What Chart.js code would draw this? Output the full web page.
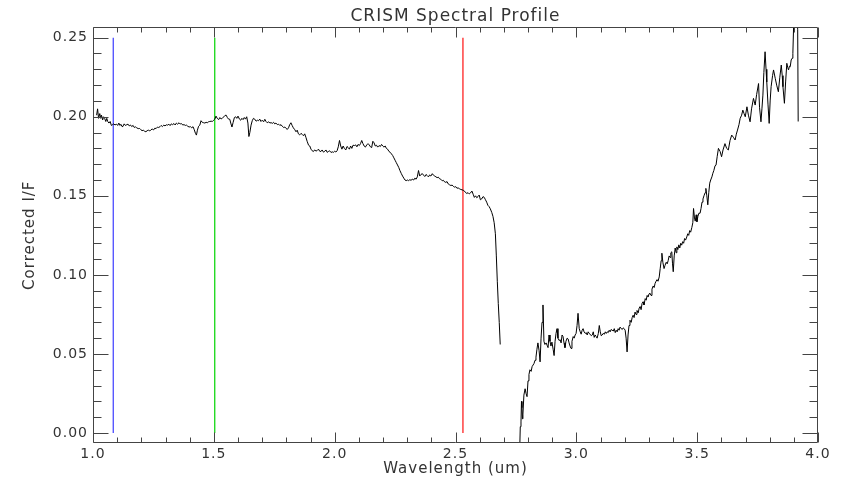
<!DOCTYPE html>
<html>
<head>
<meta charset="utf-8">
<title>CRISM Spectral Profile</title>
<script src="https://cdn.jsdelivr.net/npm/chart.js@4.4.1/dist/chart.umd.min.js"></script>
<style>
  html, body { margin: 0; padding: 0; background: #fff; }
  #wrap { width: 841px; height: 479px; }
</style>
</head>
<body>
<div id="wrap"><canvas id="profile" width="841" height="479"></canvas></div>
<script>
// Spectrum, short-wave part (um, I/F)
const shortSpectrum = [
  [1.015,0.201],[1.019,0.205],[1.023,0.199],[1.028,0.202],[1.032,0.199],[1.035,0.201],[1.040,0.198],[1.044,0.200],[1.048,0.199],[1.053,0.197],
  [1.057,0.199],[1.061,0.197],[1.066,0.196],[1.071,0.197],[1.076,0.1945],[1.081,0.195],[1.086,0.1955],[1.091,0.1948],[1.097,0.1953],[1.102,0.1945],
  [1.107,0.196],[1.111,0.1945],[1.116,0.1952],[1.120,0.1938],[1.124,0.194],[1.129,0.1955],[1.134,0.1945],[1.140,0.195],[1.145,0.1953],[1.150,0.1942],
  [1.155,0.1948],[1.160,0.1938],[1.166,0.1945],[1.171,0.1932],[1.176,0.1936],[1.181,0.193],[1.187,0.1925],[1.193,0.1926],[1.198,0.1918],[1.203,0.1912],
  [1.208,0.1915],[1.214,0.1908],[1.219,0.1905],[1.224,0.1912],[1.230,0.1915],[1.235,0.191],[1.240,0.1918],[1.245,0.1922],[1.251,0.1917],[1.256,0.1928],
  [1.261,0.1925],[1.267,0.1935],[1.272,0.1932],[1.277,0.1937],[1.282,0.1945],[1.287,0.1938],[1.293,0.1947],[1.298,0.1942],[1.303,0.1949],[1.309,0.1947],
  [1.314,0.1953],[1.319,0.1944],[1.324,0.1955],[1.329,0.1950],[1.335,0.1957],[1.340,0.1948],[1.345,0.1960],[1.350,0.1953],[1.356,0.1962],[1.361,0.1954],
  [1.366,0.1957],[1.371,0.1948],[1.377,0.1950],[1.382,0.1945],[1.387,0.1947],[1.392,0.1940],[1.398,0.1935],[1.403,0.1938],[1.408,0.1930],[1.414,0.1937],
  [1.419,0.1918],[1.424,0.1895],[1.428,0.1884],[1.432,0.1915],[1.437,0.1940],[1.442,0.1947],[1.447,0.1975],[1.452,0.1965],[1.458,0.1962],[1.463,0.1960],
  [1.468,0.1965],[1.473,0.1962],[1.478,0.1968],[1.483,0.1970],[1.489,0.1972],[1.494,0.1970],[1.499,0.1978],[1.504,0.1985],[1.509,0.2004],[1.514,0.1990],
  [1.520,0.1982],[1.525,0.1995],[1.530,0.1986],[1.535,0.1990],[1.540,0.1998],[1.546,0.2008],[1.551,0.2010],[1.556,0.1995],[1.561,0.1985],[1.566,0.1984],
  [1.570,0.1960],[1.575,0.1935],[1.580,0.1965],[1.585,0.1995],[1.590,0.2000],[1.595,0.1990],[1.600,0.2004],[1.606,0.1985],[1.611,0.1978],[1.616,0.1990],
  [1.621,0.1982],[1.626,0.1995],[1.631,0.1985],[1.636,0.2000],[1.641,0.1960],[1.645,0.1875],[1.649,0.1900],[1.654,0.1947],[1.659,0.1975],[1.664,0.1990],
  [1.669,0.1985],[1.675,0.1972],[1.680,0.1978],[1.685,0.1975],[1.690,0.1985],[1.695,0.1970],[1.700,0.1978],[1.706,0.1968],[1.711,0.1984],[1.716,0.1970],
  [1.721,0.1962],[1.727,0.1968],[1.732,0.1960],[1.737,0.1963],[1.742,0.1958],[1.747,0.1965],[1.752,0.1955],[1.757,0.1960],[1.763,0.1950],[1.768,0.1953],
  [1.773,0.1945],[1.778,0.1950],[1.783,0.1940],[1.789,0.1932],[1.794,0.1935],[1.799,0.1926],[1.804,0.1920],[1.809,0.1930],[1.814,0.1950],[1.819,0.1962],
  [1.824,0.1945],[1.829,0.1930],[1.835,0.1918],[1.840,0.1905],[1.845,0.1915],[1.850,0.1892],[1.855,0.1885],[1.861,0.1895],[1.866,0.1888],[1.871,0.1880],
  [1.876,0.1892],[1.881,0.1870],[1.886,0.1845],[1.892,0.1820],[1.897,0.1815],[1.902,0.1795],[1.907,0.1785],[1.912,0.1780],[1.917,0.1790],[1.923,0.1783],
  [1.928,0.1787],[1.933,0.1795],[1.938,0.1782],[1.943,0.1780],[1.948,0.1790],[1.954,0.1776],[1.959,0.1782],[1.964,0.1790],[1.969,0.1775],[1.974,0.1780],
  [1.979,0.1785],[1.985,0.1774],[1.990,0.1778],[1.995,0.1775],[2.000,0.1782],[2.005,0.1777],[2.010,0.1785],[2.015,0.1810],[2.020,0.1850],[2.025,0.1815],
  [2.030,0.1795],[2.035,0.1815],[2.040,0.1800],[2.046,0.1790],[2.051,0.1812],[2.056,0.1805],[2.061,0.1795],[2.066,0.1815],[2.071,0.1800],[2.076,0.1820],
  [2.082,0.1818],[2.087,0.1822],[2.092,0.1810],[2.097,0.1825],[2.102,0.1818],[2.107,0.1830],[2.112,0.1850],[2.117,0.1830],[2.122,0.1815],[2.127,0.1808],
  [2.133,0.1822],[2.138,0.1830],[2.143,0.1822],[2.148,0.1810],[2.153,0.1805],[2.158,0.1845],[2.163,0.1835],[2.168,0.1815],[2.173,0.1820],[2.178,0.1808],
  [2.184,0.1818],[2.189,0.1812],[2.194,0.1825],[2.199,0.1815],[2.204,0.1808],[2.209,0.1815],[2.214,0.1800],[2.219,0.1795],[2.225,0.1780],[2.230,0.1775],
  [2.235,0.1765],[2.240,0.1755],[2.245,0.1740],[2.250,0.1725],[2.255,0.1710],[2.260,0.1695],[2.265,0.1680],[2.270,0.1660],[2.276,0.1640],[2.281,0.1625],
  [2.286,0.1612],[2.291,0.1600],[2.296,0.1596],[2.301,0.1600],[2.306,0.1596],[2.311,0.1602],[2.316,0.1598],[2.321,0.1605],[2.327,0.1600],[2.332,0.1612],
  [2.337,0.1605],[2.342,0.1620],[2.347,0.1660],[2.352,0.1625],[2.357,0.1635],[2.363,0.1640],[2.368,0.1630],[2.373,0.1622],[2.378,0.1635],[2.383,0.1628],
  [2.388,0.1620],[2.393,0.1632],[2.398,0.1625],[2.404,0.1640],[2.409,0.1630],[2.414,0.1625],[2.419,0.1620],[2.424,0.1615],[2.429,0.1618],[2.434,0.1608],
  [2.439,0.1605],[2.445,0.1595],[2.450,0.1598],[2.455,0.1588],[2.460,0.1585],[2.465,0.1590],[2.470,0.1575],[2.475,0.1570],[2.481,0.1565],[2.486,0.1568],
  [2.491,0.1560],[2.496,0.1555],[2.501,0.1558],[2.506,0.1548],[2.511,0.1550],[2.516,0.1545],[2.522,0.1540],[2.527,0.1538],[2.532,0.1535],[2.537,0.1530],
  [2.542,0.1520],[2.547,0.1515],[2.552,0.1520],[2.557,0.1512],[2.562,0.1518],[2.568,0.1530],[2.573,0.1510],[2.578,0.1490],[2.583,0.1500],[2.588,0.1488],
  [2.593,0.1495],[2.598,0.1505],[2.603,0.1475],[2.608,0.1480],[2.614,0.1495],[2.619,0.1490],[2.624,0.1475],[2.629,0.1460],[2.634,0.1440],[2.639,0.1432],
  [2.644,0.1418],[2.650,0.1395],[2.655,0.1370],[2.660,0.1330],[2.665,0.1260],[2.669,0.1120],[2.673,0.0960],[2.677,0.0820],[2.681,0.0700],[2.685,0.0560]
];

// Spectrum, long-wave part (um, I/F)
const longSpectrum = [
  [2.765,-0.015],[2.768,0.004],[2.771,0.007],[2.773,0.020],[2.775,0.016],[2.777,0.009],[2.779,0.012],[2.783,0.024],[2.788,0.028],[2.792,0.025],
  [2.796,0.023],[2.800,0.033],[2.804,0.037],[2.808,0.040],[2.813,0.039],[2.817,0.042],[2.821,0.043],[2.825,0.044],[2.829,0.046],[2.833,0.048],
  [2.837,0.053],[2.841,0.057],[2.846,0.052],[2.850,0.045],[2.854,0.060],[2.858,0.070],[2.862,0.081],[2.866,0.058],[2.870,0.056],[2.875,0.057],
  [2.879,0.0555],[2.883,0.054],[2.887,0.062],[2.891,0.058],[2.895,0.055],[2.899,0.0575],[2.904,0.053],[2.908,0.049],[2.912,0.058],[2.916,0.063],
  [2.920,0.066],[2.924,0.060],[2.929,0.0585],[2.933,0.059],[2.937,0.057],[2.941,0.062],[2.945,0.061],[2.949,0.057],[2.953,0.054],[2.957,0.058],
  [2.962,0.060],[2.966,0.0595],[2.970,0.057],[2.974,0.055],[2.978,0.0535],[2.982,0.058],[2.987,0.061],[2.991,0.060],[2.995,0.062],[2.999,0.063],
  [3.003,0.068],[3.007,0.0757],[3.012,0.066],[3.016,0.064],[3.020,0.0625],[3.024,0.065],[3.028,0.066],[3.032,0.064],[3.037,0.063],[3.041,0.0635],
  [3.045,0.062],[3.049,0.064],[3.053,0.063],[3.057,0.0625],[3.062,0.0615],[3.066,0.062],[3.070,0.064],[3.074,0.0605],[3.078,0.062],[3.082,0.061],
  [3.086,0.060],[3.091,0.063],[3.095,0.068],[3.099,0.064],[3.103,0.0615],[3.107,0.062],[3.111,0.063],[3.116,0.0625],[3.120,0.064],[3.124,0.063],
  [3.128,0.064],[3.132,0.0635],[3.136,0.065],[3.140,0.064],[3.144,0.0655],[3.148,0.065],[3.153,0.0645],[3.157,0.066],[3.161,0.0635],[3.165,0.065],
  [3.169,0.064],[3.173,0.066],[3.177,0.065],[3.181,0.067],[3.186,0.066],[3.190,0.0655],[3.194,0.0665],[3.198,0.066],[3.202,0.065],[3.206,0.060],
  [3.210,0.0513],[3.214,0.062],[3.218,0.068],[3.222,0.0713],[3.227,0.070],[3.231,0.073],[3.235,0.0745],[3.239,0.073],[3.243,0.0765],[3.247,0.075],
  [3.251,0.0775],[3.256,0.076],[3.260,0.079],[3.264,0.080],[3.268,0.078],[3.272,0.082],[3.276,0.083],[3.280,0.081],[3.285,0.085],[3.289,0.084],
  [3.293,0.087],[3.297,0.086],[3.301,0.088],[3.305,0.0884],[3.309,0.087],[3.313,0.091],[3.318,0.093],[3.322,0.092],[3.326,0.0947],[3.330,0.096],
  [3.334,0.097],[3.338,0.096],[3.343,0.0987],[3.347,0.104],[3.351,0.109],[3.354,0.1137],[3.358,0.108],[3.363,0.104],[3.367,0.106],[3.372,0.108],
  [3.376,0.107],[3.380,0.109],[3.384,0.112],[3.388,0.111],[3.391,0.114],[3.395,0.1146],[3.398,0.107],[3.401,0.102],[3.405,0.112],[3.409,0.117],
  [3.413,0.114],[3.416,0.1177],[3.420,0.116],[3.424,0.119],[3.428,0.117],[3.432,0.120],[3.436,0.1188],[3.440,0.121],[3.444,0.120],[3.448,0.123],
  [3.452,0.122],[3.457,0.124],[3.461,0.126],[3.465,0.125],[3.469,0.128],[3.473,0.127],[3.478,0.130],[3.482,0.133],[3.485,0.142],[3.489,0.136],
  [3.492,0.134],[3.496,0.138],[3.499,0.1336],[3.503,0.137],[3.507,0.139],[3.512,0.139],[3.516,0.142],[3.520,0.146],[3.524,0.148],[3.529,0.1504],
  [3.533,0.152],[3.536,0.1547],[3.540,0.150],[3.544,0.1443],[3.548,0.152],[3.552,0.158],[3.556,0.160],[3.561,0.162],[3.565,0.1643],[3.569,0.166],
  [3.574,0.1690],[3.578,0.1694],[3.583,0.175],[3.588,0.180],[3.595,0.178],[3.601,0.1747],[3.607,0.179],[3.615,0.183],[3.622,0.180],[3.629,0.179],
  [3.636,0.185],[3.643,0.1884],[3.650,0.187],[3.657,0.1853],[3.662,0.189],[3.667,0.1916],[3.673,0.195],[3.678,0.199],[3.684,0.201],[3.689,0.2042],
  [3.694,0.202],[3.699,0.200],[3.706,0.2063],[3.712,0.201],[3.719,0.1968],[3.725,0.205],[3.733,0.2116],[3.740,0.2074],[3.746,0.214],[3.754,0.221],
  [3.758,0.206],[3.764,0.1968],[3.768,0.205],[3.772,0.2137],[3.776,0.228],[3.781,0.2411],[3.785,0.230],[3.788,0.222],[3.793,0.208],[3.798,0.1958],
  [3.802,0.210],[3.806,0.219],[3.812,0.226],[3.816,0.2296],[3.823,0.2243],[3.829,0.220],[3.836,0.2158],[3.842,0.225],[3.848,0.2327],[3.852,0.226],
  [3.855,0.219],[3.861,0.2085],[3.866,0.222],[3.871,0.2338],[3.875,0.231],[3.878,0.2296],[3.882,0.232],[3.885,0.2316],[3.889,0.2359],[3.893,0.237],
  [3.896,0.2401],[3.901,0.268],[3.910,0.275],[3.916,0.255],[3.918,0.197]
];

// band markers (R, G, B display wavelengths)
const bandWavelengths = [1.0838, 1.5038, 2.5308];
const bandColors = ['#3c3cff', '#00d400', '#ff1010'];
const bandRange = [0.0, 0.25];

const xTickValues = [1.0, 1.5, 2.0, 2.5, 3.0, 3.5, 4.0];
const yTickValues = [0.00, 0.05, 0.10, 0.15, 0.20, 0.25];
const xLimits = [1.0, 4.0];
const yLimits = [-0.0063, 0.2565];

const fontFamily = 'DejaVu Sans';
const axisColor = '#444';
const textColor = '#333';

// the plot font is spaced out a little
const wideText = {
    id: 'wideText',
    beforeUpdate(chart) { chart.ctx.letterSpacing = '1px'; },
    beforeDraw(chart) { chart.ctx.letterSpacing = '1px'; }
};

// frame with inward ticks on all four sides, minor ticks between the labelled ones
const plotFrame = {
    id: 'plotFrame',
    afterDatasetsDraw(chart) {
        const { ctx, chartArea: a, scales: { x, y } } = chart;
        const L = Math.round(a.left) + 0.5, R = Math.round(a.right) - 0.5;
        const T = Math.round(a.top) + 0.5, B = Math.round(a.bottom) - 0.5;
        ctx.save();
        ctx.strokeStyle = axisColor;
        ctx.lineWidth = 1;
        ctx.beginPath();
        ctx.rect(L, T, R - L, B - T);

        // x: minor every 0.1, major every 0.5
        for (let i = 0; i <= 30; i++) {
            const px = Math.round(x.getPixelForValue(xLimits[0] + i * 0.1)) + 0.5;
            const len = i % 5 === 0 ? 10 : 5;
            ctx.moveTo(px, B); ctx.lineTo(px, B - len);
            ctx.moveTo(px, T); ctx.lineTo(px, T + len);
        }
        // y: minor every 0.01, major every 0.05
        for (let i = 0; i <= 25; i++) {
            const py = Math.round(y.getPixelForValue(i * 0.01)) + 0.5;
            const len = i % 5 === 0 ? 15 : 8;
            ctx.moveTo(L, py); ctx.lineTo(L + len, py);
            ctx.moveTo(R, py); ctx.lineTo(R - len, py);
        }
        ctx.stroke();
        ctx.restore();
    }
};

const spectrumPoints = shortSpectrum.map(([x, y]) => ({ x, y }))
    .concat([{ x: 2.72, y: null }])
    .concat(longSpectrum.map(([x, y]) => ({ x, y })));

const bandSets = bandWavelengths.map((wl, i) => ({
    data: bandRange.map(v => ({ x: wl, y: v })),
    borderColor: bandColors[i],
    borderWidth: 1.2,
    pointRadius: 0
}));

new Chart(document.getElementById('profile'), {
    type: 'line',
    data: {
        datasets: [{
            data: spectrumPoints,
            borderColor: '#000',
            borderWidth: 1,
            pointRadius: 0,
            tension: 0,
            spanGaps: false
        }].concat(bandSets)
    },
    options: {
        responsive: false,
        animation: false,
        devicePixelRatio: 1,
        layout: { padding: { left: 0, right: 23, top: 0, bottom: 0 } },
        plugins: {
            legend: { display: false },
            tooltip: { enabled: false },
            title: {
                display: true,
                fullSize: false,
                text: 'CRISM Spectral Profile',
                color: textColor,
                font: { family: fontFamily, size: 17, weight: 'normal' },
                padding: { top: 6, bottom: 1 }
            }
        },
        scales: {
            x: {
                type: 'linear',
                min: xLimits[0],
                max: xLimits[1],
                afterBuildTicks: s => { s.ticks = xTickValues.map(v => ({ value: v })); },
                afterFit: s => { s.height = 36; },
                grid: { display: false, drawTicks: false },
                border: { display: false },
                ticks: {
                    color: textColor,
                    font: { family: fontFamily, size: 14 },
                    padding: 3,
                    maxRotation: 0,
                    autoSkip: false,
                    callback: v => v.toFixed(1)
                },
                title: {
                    display: true,
                    text: 'Wavelength (um)',
                    color: textColor,
                    font: { family: fontFamily, size: 15 },
                    padding: { top: 0, bottom: 1 }
                }
            },
            y: {
                type: 'linear',
                min: yLimits[0],
                max: yLimits[1],
                afterBuildTicks: s => { s.ticks = yTickValues.map(v => ({ value: v })); },
                afterFit: s => { s.width = 93; },
                grid: { display: false, drawTicks: false },
                border: { display: false },
                ticks: {
                    color: textColor,
                    font: { family: fontFamily, size: 14 },
                    padding: 5,
                    callback: v => v.toFixed(2)
                },
                title: {
                    display: true,
                    text: 'Corrected I/F',
                    color: textColor,
                    font: { family: fontFamily, size: 15 },
                    padding: { top: 21, bottom: 0 }
                }
            }
        }
    },
    plugins: [wideText, plotFrame]
});
</script>
</body>
</html>
